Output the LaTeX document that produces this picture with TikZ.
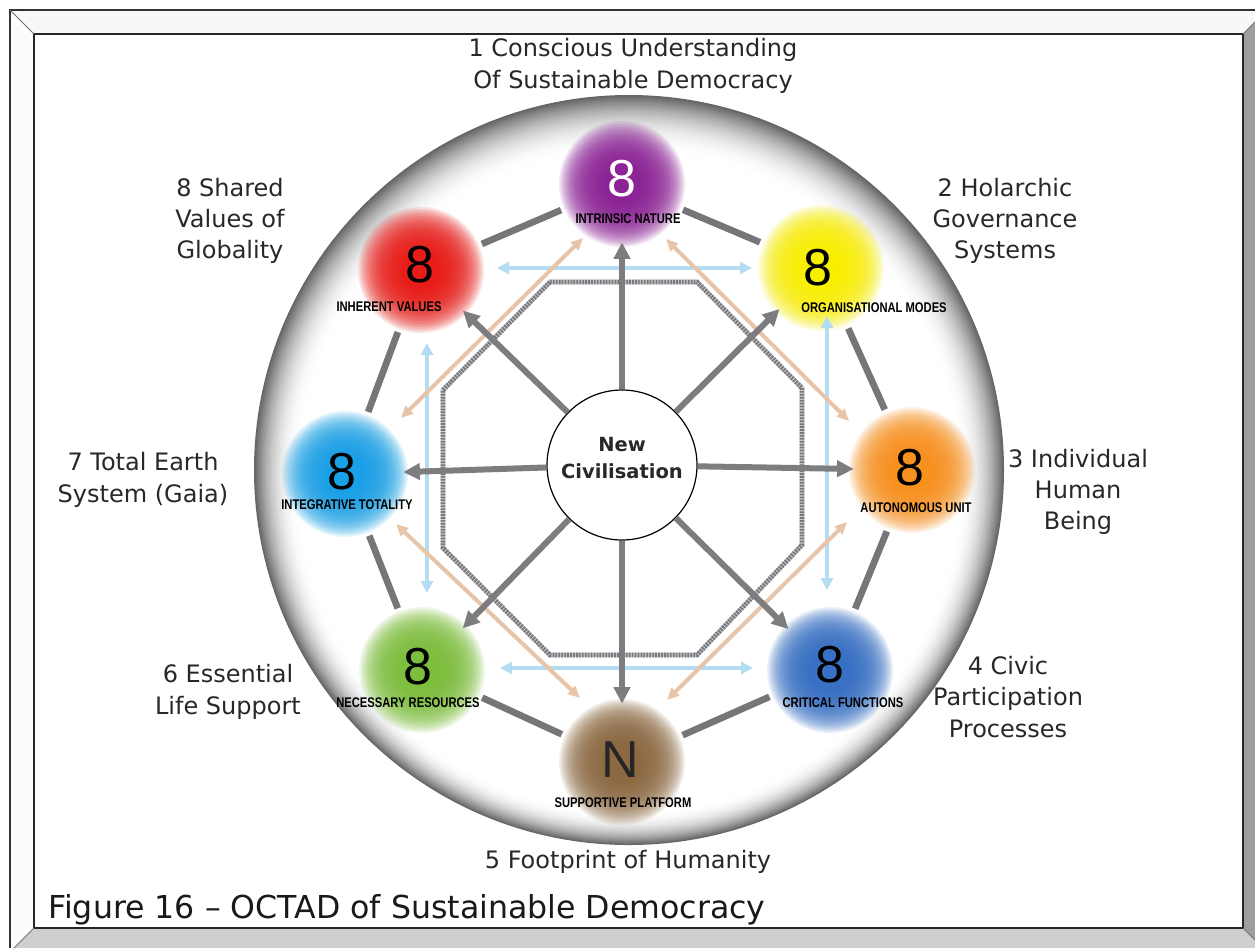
\documentclass[tikz,border=0pt]{standalone}
\usepackage{fontspec}
\setmainfont{DejaVu Sans}
\newfontfamily\narrowbold[FakeStretch=0.8]{Liberation Sans}
\newfontfamily\digitfont{Liberation Sans}
\usetikzlibrary{arrows.meta}

\definecolor{cPurple}{RGB}{140,35,150}
\definecolor{cRed}{RGB}{232,28,24}
\definecolor{cYellow}{RGB}{248,238,0}
\definecolor{cOrange}{RGB}{247,145,30}
\definecolor{cBlue}{RGB}{55,112,196}
\definecolor{cBrown}{RGB}{140,105,65}
\definecolor{cGreen}{RGB}{125,190,60}
\definecolor{cCyan}{RGB}{25,160,230}
\definecolor{connGray}{RGB}{118,118,120}
\definecolor{spokeGray}{RGB}{125,125,128}
\definecolor{tanC}{RGB}{232,196,168}
\definecolor{lblue}{RGB}{180,220,242}
\definecolor{hatchGray}{RGB}{120,120,128}
\definecolor{txt}{RGB}{40,40,40}
\definecolor{bevTop}{RGB}{248,248,248}
\definecolor{bevLeft}{RGB}{252,252,252}
\definecolor{bevRight}{RGB}{158,158,158}
\definecolor{bevBottom}{RGB}{207,207,207}

\newcommand\glowat[3]{%
  \foreach \rr in {63,61.5,...,21} {\fill[#3,opacity=0.1] (#1,#2) circle[radius={\rr*0.75pt}];}
  \fill[#3] (#1,#2) circle[radius=15pt];}

\begin{document}
\begin{tikzpicture}[x=0.75pt,y=-0.75pt,
  hub/.style={circle,minimum size=87pt,inner sep=0pt},
  spoke/.style={draw=spokeGray,line width=4.5pt,-{Triangle[length=12.5pt,width=12pt]}},
  conn/.style={draw=connGray,line width=5pt,shorten <=6pt,shorten >=6pt},
  tanarr/.style={draw=tanC,line width=3pt,{Triangle[length=9pt,width=8pt]}-{Triangle[length=9pt,width=8pt]}},
  bluearr/.style={draw=lblue,line width=3.5pt,{Triangle[length=9pt,width=9pt]}-{Triangle[length=9pt,width=9pt]}},
  lab/.style={font=\fontsize{18}{23.5}\selectfont,text=txt,align=center,inner sep=0pt},
  tag/.style={font=\narrowbold\bfseries\fontsize{10.5}{12}\selectfont,inner sep=0pt},
  digit/.style={font=\digitfont\fontsize{39}{40}\selectfont,inner sep=0pt}]
\useasboundingbox (0,0) rectangle (1255,947);
\fill[white] (0,0) rectangle (1255,947);
% frame bevels
\fill[bevTop] (10,10) -- (1267,10) -- (1243,34) -- (34,34) -- cycle;
\fill[bevLeft] (10,10) -- (34,34) -- (34,928) -- (10,952) -- cycle;
\fill[bevRight] (1267,10) -- (1243,34) -- (1243,928) -- (1267,952) -- cycle;
\fill[bevBottom] (34,928) -- (1243,928) -- (1267,952) -- (10,952) -- cycle;
\draw[line width=1.2pt,black!80] (10,10) rectangle (1267,952);
\draw[line width=1.5pt,black!85] (34,34) rectangle (1243,928);
\draw[line width=0.6pt,black!55] (10,10) -- (34,34) (1267,10) -- (1243,34) (1243,928) -- (1267,952) (34,928) -- (10,952);

% big disk with grey rim (lit from below)
\foreach \i in {0,...,30} {
  \pgfmathsetmacro\rad{375-\i*1.5}
  \pgfmathsetmacro\cy{470+\i*0.4}
  \pgfmathsetmacro\g{60*(1-\i/30)^2.2}
  \fill[black!\g] (629,\cy) circle[radius={\rad*0.75pt}];
}

% glows
\glowat{622}{184}{cPurple}
\glowat{821}{268}{cYellow}
\glowat{912}{470}{cOrange}
\glowat{830}{670}{cBlue}
\glowat{622}{762}{cBrown}
\glowat{422}{670}{cGreen}
\glowat{345}{474}{cCyan}
\glowat{421}{270}{cRed}

% hubs
\node[hub] (P) at (622,184) {};
\node[hub] (Y) at (821,268) {};
\node[hub] (O) at (912,470) {};
\node[hub] (B) at (830,670) {};
\node[hub] (N) at (622,762) {};
\node[hub] (G) at (422,670) {};
\node[hub] (C) at (345,474) {};
\node[hub] (R) at (421,270) {};

% hatched octagon
\draw[line width=3.5pt,black!22] (550,282) -- (697,282) -- (802,388) -- (802,545) -- (697,655) -- (550,655) -- (443,548) -- (443,390) -- cycle;
\draw[line width=3.5pt,hatchGray,dash pattern=on 1.3pt off 0.9pt] (550,282) -- (697,282) -- (802,388) -- (802,545) -- (697,655) -- (550,655) -- (443,548) -- (443,390) -- cycle;

% blue arrows
\coordinate (b1a) at (497,268); \coordinate (b1b) at (752,268);
\coordinate (b2a) at (827,316); \coordinate (b2b) at (827,590);
\coordinate (b3a) at (500,668); \coordinate (b3b) at (753,668);
\coordinate (b4a) at (427,343); \coordinate (b4b) at (427,593);
\draw[bluearr] (b1a) -- (b1b);
\draw[bluearr] (b2a) -- (b2b);
\draw[bluearr] (b3a) -- (b3b);
\draw[bluearr] (b4a) -- (b4b);

% tan arrows
\coordinate (t1a) at (583,238); \coordinate (t1b) at (401,418);
\coordinate (t2a) at (666,239); \coordinate (t2b) at (849,421);
\coordinate (t3a) at (847,522); \coordinate (t3b) at (667,700);
\coordinate (t4a) at (396,524); \coordinate (t4b) at (580,698);
\draw[tanarr] (t1a) -- (t1b);
\draw[tanarr] (t2a) -- (t2b);
\draw[tanarr] (t3a) -- (t3b);
\draw[tanarr] (t4a) -- (t4b);

% outer ring connectors
\draw[conn] (R) -- (P);
\draw[conn] (P) -- (Y);
\draw[conn] (Y) -- (O);
\draw[conn] (O) -- (B);
\draw[conn] (B) -- (N);
\draw[conn] (N) -- (G);
\draw[conn] (G) -- (C);
\draw[conn] (C) -- (R);

% centre
\node[circle,draw=black,line width=0.9pt,fill=white,minimum size=112.5pt,inner sep=0pt] (NC) at (622,465) {};
\draw[spoke] (NC) -- (P);
\draw[spoke] (NC) -- (Y);
\draw[spoke] (NC) -- (O);
\draw[spoke] (NC) -- (B);
\draw[spoke] (NC) -- (N);
\draw[spoke] (NC) -- (G);
\draw[spoke] (NC) -- (C);
\draw[spoke] (NC) -- (R);
\node[font=\bfseries\fontsize{14.6}{20}\selectfont,align=center,text=txt] (NCt) at (622,458) {New\\Civilisation};

% digits
\node[digit,text=white] (dP) at (622,179) {8};
\node[digit] (dY) at (818,268) {8};
\node[digit] (dO) at (910,468) {8};
\node[digit] (dB) at (830,665) {8};
\node[digit,text=black!85] (dN) at (620,760) {N};
\node[digit] (dG) at (418,667) {8};
\node[digit] (dC) at (342,472) {8};
\node[digit] (dR) at (420,265) {8};

% tags
\node[tag] (gP) at (628,219) {INTRINSIC NATURE};
\node[tag] (gY) at (874,308) {ORGANISATIONAL MODES};
\node[tag] (gO) at (916,508) {AUTONOMOUS UNIT};
\node[tag] (gB) at (843,703) {CRITICAL FUNCTIONS};
\node[tag] (gN) at (623,803) {SUPPORTIVE PLATFORM};
\node[tag] (gG) at (408,703) {NECESSARY RESOURCES};
\node[tag] (gC) at (347,505) {INTEGRATIVE TOTALITY};
\node[tag] (gR) at (389,307) {INHERENT VALUES};

% outer labels
\node[lab] (l1) at (633,66) {1 Conscious Understanding\\Of Sustainable Democracy};
\node[lab] (l2) at (1005,221) {2 Holarchic\\Governance\\Systems};
\node[lab] (l3) at (1078,492) {3 Individual\\Human\\Being};
\node[lab] (l4) at (1008,697) {4 Civic\\Participation\\Processes};
\node[lab] (l5) at (628,862) {5 Footprint of Humanity};
\node[lab] (l6) at (228,692) {6 Essential\\Life Support};
\node[lab] (l7) at (143,480) {7 Total Earth\\System (Gaia)};
\node[lab] (l8) at (230,221) {8 Shared\\Values of\\Globality};

% caption
\node[anchor=base west,inner sep=0pt,font=\fontsize{23.7}{28}\selectfont,text=black!90] (cap) at (48,918) {Figure 16 -- OCTAD of Sustainable Democracy};
\end{tikzpicture}
\end{document}
